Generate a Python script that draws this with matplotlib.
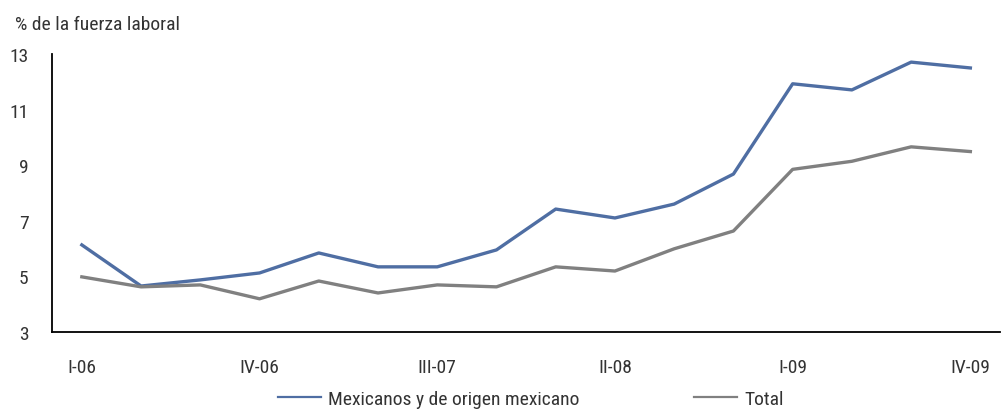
import matplotlib.pyplot as plt

# Datos trimestrales
trimestres = ['I-06', 'II-06', 'III-06', 'IV-06', 'I-07', 'II-07', 'III-07', 'IV-07',
              'I-08', 'II-08', 'III-08', 'IV-08', 'I-09', 'II-09', 'III-09', 'IV-09']
mexicanos = [6.13, 4.65, 4.87, 5.12, 5.84, 5.34, 5.34, 5.95,
             7.42, 7.10, 7.60, 8.68, 11.93, 11.71, 12.71, 12.50]
total = [4.98, 4.62, 4.69, 4.19, 4.83, 4.40, 4.69, 4.62,
         5.34, 5.19, 5.99, 6.63, 8.85, 9.14, 9.66, 9.49]
etiquetas_x = ['I-06', 'IV-06', 'III-07', 'II-08', 'I-09', 'IV-09']
ticks_y = [3, 5, 7, 9, 11, 13]

plt.rcParams['font.family'] = ['Roboto Condensed', 'DejaVu Sans']
plt.rcParams['font.size'] = 14

fig = plt.figure(figsize=(10.04, 4.14), dpi=100)
ax = fig.add_axes([0.052, 0.196, 0.944, 0.671])

x = list(range(len(trimestres)))
ax.plot(x, mexicanos, color='#4F6EA3', lw=2.4, label='Mexicanos y de origen mexicano')
ax.plot(x, total, color='#808080', lw=2.4, label='Total')

ax.set_xlim(-0.5, len(trimestres) - 0.5)
ax.set_ylim(3, 13)
ax.set_yticks(ticks_y)
ax.set_xticks([trimestres.index(t) for t in etiquetas_x])
ax.set_xticklabels(etiquetas_x)
ax.tick_params(length=0, colors='#333333')
ax.tick_params(axis='x', pad=19)
ax.tick_params(axis='y', pad=17)
for s in ['top', 'right']:
    ax.spines[s].set_visible(False)
for s in ['left', 'bottom']:
    ax.spines[s].set_color('black')
    ax.spines[s].set_linewidth(1.3)

fig.text(0.015, 0.928, '% de la fuerza laboral', fontsize=14, color='#333333', va='baseline')

leg = ax.legend(loc='center', bbox_to_anchor=(0.505, -0.241), ncol=2, frameon=False,
                handlelength=2.2, columnspacing=5.9, handletextpad=0.36)
for h in leg.get_lines():
    h.set_linewidth(1.6)
for t in leg.get_texts():
    t.set_color('#333333')

fig.savefig('out.png', dpi=100)
